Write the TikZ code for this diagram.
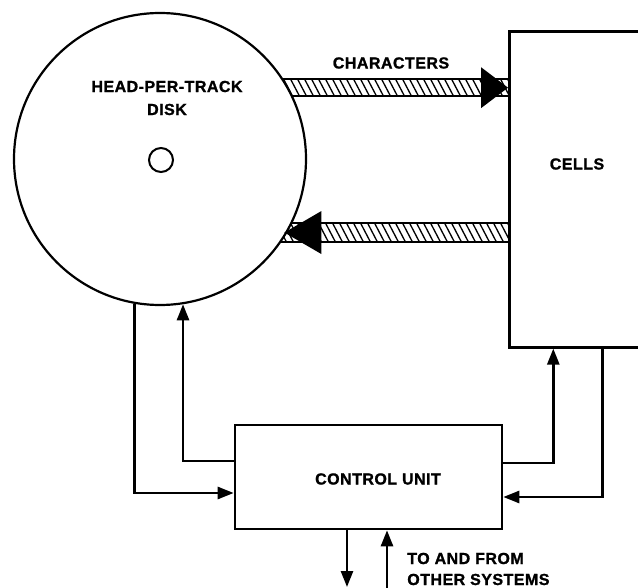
\documentclass[tikz,border=0pt]{standalone}
\usepackage{fontspec}
\setmainfont[LetterSpace=3,BoldFeatures={FakeBold=1.2}]{Liberation Sans}
\usetikzlibrary{arrows.meta,backgrounds,calc}
\begin{document}
\begin{tikzpicture}[x=1pt,y=-1pt,line width=2.6pt,
  lbl/.style={font=\bfseries\fontsize{16}{23}\selectfont, align=center, inner sep=0pt},
  conn/.style={line width=2.6pt, -{Triangle[length=16pt,width=12pt]}},
  box/.style={draw, line width=2.6pt, fill=white, inner sep=0pt},
  hatch/.style={line width=1.3pt},
  bandline/.style={line width=2.6pt}]
\useasboundingbox (0,0) rectangle (638,588);
\clip (0,0) rectangle (638,588);
% disk
\node[draw, circle, line width=2.2pt, minimum size=292pt, inner sep=0pt, fill=white] (disk) at (160,159) {};
\node[draw, circle, line width=2pt, minimum size=24pt, inner sep=0pt] (hub) at (161,160) {};
\node[lbl] (disklbl) at (167,98) {HEAD-PER-TRACK\\DISK};
% cells
\node[box, minimum width=200pt, minimum height=316pt, anchor=north west] (cells) at (508,30) {};
\node[lbl] (cellslbl) at (577,164) {CELLS};
% control unit
\node[box, minimum width=267pt, minimum height=104pt] (cu) at (368.5,477) {};
\node[lbl] (culbl) at (378,479) {CONTROL UNIT};
% band anchor points
\coordinate (t1) at (disk.29);
\coordinate (t2) at (disk.-30.5);
% hatched bands (behind the disk)
\begin{scope}[on background layer]
  \begin{scope}
    \clip ([yshift=8.5pt]t1 -| disk.center) rectangle ([yshift=-8.5pt]t1 -| cells.west);
    \foreach \x in {150,157,...,530} \draw[hatch] (\x,78) -- (\x+11,99);
  \end{scope}
  \draw[bandline] ([yshift=8.5pt]t1 -| disk.center) -- ([yshift=8.5pt]t1 -| cells.west);
  \draw[bandline] ([yshift=-8.5pt]t1 -| disk.center) -- ([yshift=-8.5pt]t1 -| cells.west);
  \begin{scope}
    \clip ([yshift=9.5pt]t2 -| disk.center) rectangle ([yshift=-9.5pt]t2 -| cells.west);
    \foreach \x in {150,157,...,530} \draw[hatch] (\x,222) -- (\x+12,245);
  \end{scope}
  \draw[bandline] ([yshift=9.5pt]t2 -| disk.center) -- ([yshift=9.5pt]t2 -| cells.west);
  \draw[bandline] ([yshift=-9.5pt]t2 -| disk.center) -- ([yshift=-9.5pt]t2 -| cells.west);
\end{scope}
% band arrowheads
\fill (t1 -| cells.west) -- ++(-27,-20.5) -- ++(0,41) -- cycle;
\fill ([xshift=-3pt]t2) -- ++(37,-21.5) -- ++(0,43) -- cycle;
\node[lbl] (charlbl) at (391,63) {CHARACTERS};
% connectors disk <-> control unit
\draw[conn] (disk.-100) |- ([yshift=-16pt]cu.west);
\draw[conn] ([yshift=16pt]cu.west) -| (disk.-81.3);
% connectors cells <-> control unit
\draw[conn] ([yshift=14pt]cu.east) -| ([xshift=-56pt]cells.south);
\draw[conn] ([xshift=-7pt]cells.south) |- ([yshift=-20pt]cu.east);
% to and from other systems
\coordinate (o1) at (347,587);
\coordinate (o2) at (387,592);
\draw[conn] ([xshift=-21.5pt]cu.south) -- ([xshift=-21.5pt]cu.south |- o1);
\draw[conn] ([xshift=18.5pt]cu.south |- o2) -- ([xshift=18.5pt]cu.south);
\node[lbl, anchor=west, align=left, font=\bfseries\fontsize{16}{21}\selectfont] (extlbl) at (406,569) {TO AND FROM\\OTHER SYSTEMS};
\end{tikzpicture}
\end{document}
